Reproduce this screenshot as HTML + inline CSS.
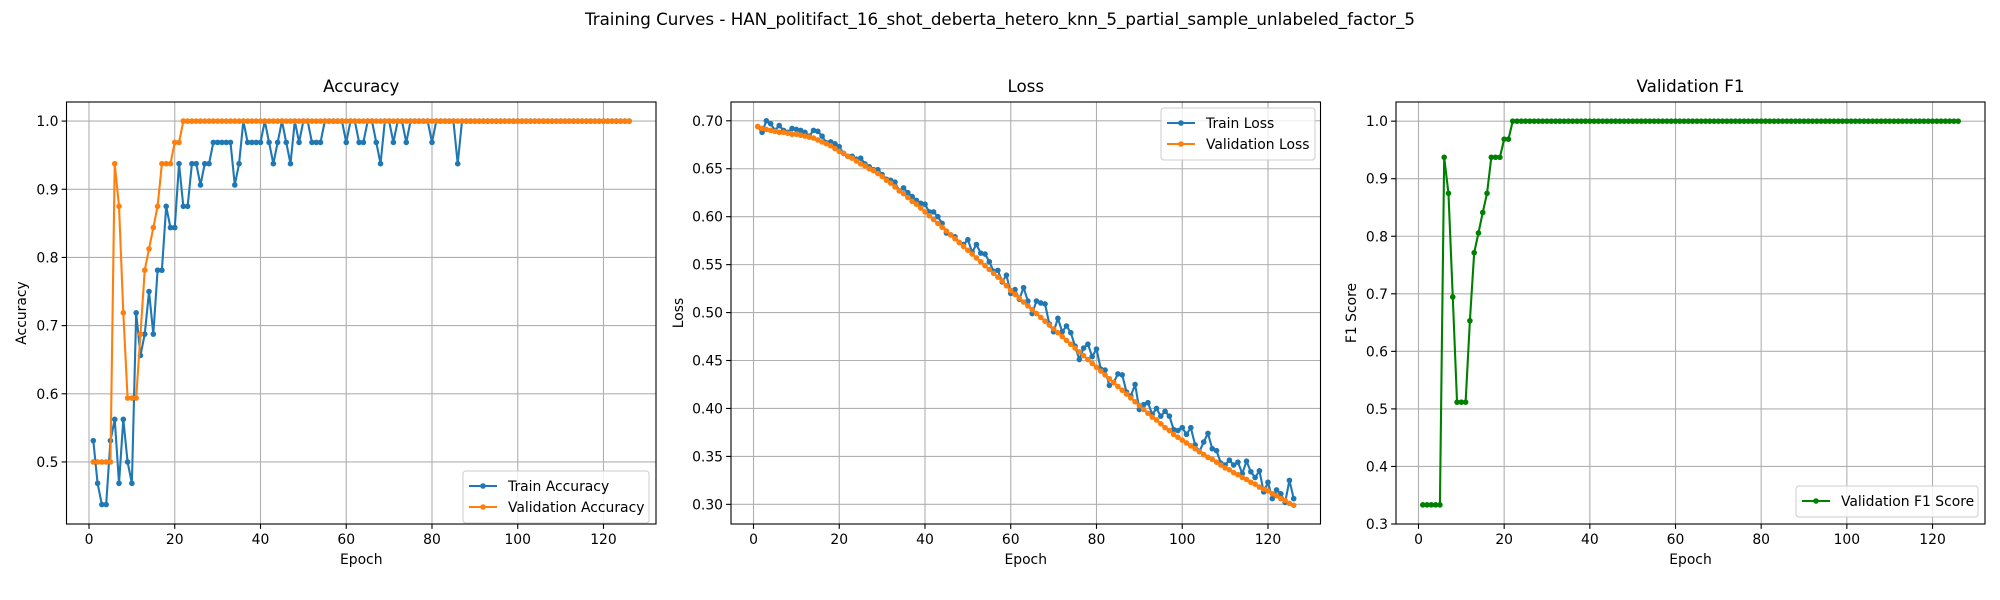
<!DOCTYPE html>
<html><head><meta charset="utf-8"><style>
html,body{margin:0;padding:0;background:#fff;}
svg{display:block;font-family:"DejaVu Sans","Liberation Sans",sans-serif;}
</style></head><body>
<svg id="fig" width="2000" height="600" viewBox="0 0 2000 600" xmlns="http://www.w3.org/2000/svg">
<text x="1000" y="25" text-anchor="middle" font-size="16.7">Training Curves - HAN_politifact_16_shot_deberta_hetero_knn_5_partial_sample_unlabeled_factor_5</text>
</svg>
<script>
const epochs = [];
for (let i = 1; i <= 126; i++) epochs.push(i);
const xTicks = [0, 20, 40, 60, 80, 100, 120];
const accTicks = [0.5, 0.6, 0.7, 0.8, 0.9, 1.0];
const lossTicks = [0.30, 0.35, 0.40, 0.45, 0.50, 0.55, 0.60, 0.65, 0.70];
const f1Ticks = [0.3, 0.4, 0.5, 0.6, 0.7, 0.8, 0.9, 1.0];
const trainAcc = [0.53125,0.46875,0.4375,0.4375,0.53125,0.5625,0.46875,0.5625,0.5,0.46875,
0.71875,0.65625,0.6875,0.75,0.6875,0.78125,0.78125,0.875,0.84375,0.84375,
0.9375,0.875,0.875,0.9375,0.9375,0.90625,0.9375,0.9375,0.96875,0.96875,
0.96875,0.96875,0.96875,0.90625,0.9375,1,0.96875,0.96875,0.96875,0.96875,
1,0.96875,0.9375,0.96875,1,0.96875,0.9375,1,0.96875,1,
1,0.96875,0.96875,0.96875,1,1,1,1,1,0.96875,
1,1,0.96875,0.96875,1,1,0.96875,0.9375,1,1,
0.96875,1,1,0.96875,1,1,1,1,1,0.96875,
1,1,1,1,1,0.9375,1,1,1,1,
1,1,1,1,1,1,1,1,1,1,
1,1,1,1,1,1,1,1,1,1,
1,1,1,1,1,1,1,1,1,1,
1,1,1,1,1,1];
const valAcc = [0.5,0.5,0.5,0.5,0.5,0.9375,0.875,0.71875,0.59375,0.59375,
0.59375,0.6875,0.78125,0.8125,0.84375,0.875,0.9375,0.9375,0.9375,0.96875,
0.96875].concat(Array(105).fill(1));
const trainLoss = [0.694,0.688,0.700,0.697,0.690,0.695,0.690,0.688,0.692,0.691,
0.690,0.688,0.684,0.690,0.689,0.684,0.677,0.678,0.676,0.673,
0.666,0.663,0.663,0.660,0.661,0.655,0.652,0.649,0.649,0.644,
0.639,0.638,0.636,0.627,0.630,0.625,0.621,0.617,0.614,0.613,
0.605,0.605,0.600,0.593,0.583,0.581,0.579,0.573,0.571,0.576,
0.563,0.571,0.562,0.561,0.553,0.543,0.544,0.532,0.539,0.520,
0.524,0.514,0.526,0.512,0.499,0.512,0.510,0.509,0.488,0.480,
0.494,0.480,0.486,0.479,0.465,0.451,0.463,0.467,0.454,0.462,
0.441,0.440,0.424,0.427,0.436,0.435,0.417,0.413,0.425,0.399,
0.404,0.406,0.394,0.400,0.392,0.397,0.392,0.378,0.377,0.380,
0.373,0.380,0.362,0.355,0.365,0.374,0.358,0.356,0.343,0.341,
0.346,0.341,0.344,0.332,0.345,0.334,0.328,0.335,0.313,0.323,
0.306,0.315,0.311,0.302,0.325,0.306];
const valLoss = [0.694,0.692,0.691,0.690,0.689,0.688,0.688,0.687,0.686,0.686,
0.685,0.684,0.683,0.682,0.680,0.678,0.676,0.674,0.671,0.668,
0.666,0.663,0.661,0.658,0.655,0.653,0.650,0.648,0.645,0.642,
0.638,0.635,0.631,0.627,0.624,0.620,0.616,0.613,0.609,0.605,
0.601,0.597,0.593,0.589,0.585,0.581,0.577,0.573,0.569,0.565,
0.561,0.557,0.553,0.549,0.545,0.541,0.537,0.533,0.528,0.523,
0.519,0.515,0.511,0.507,0.503,0.499,0.495,0.491,0.487,0.483,
0.479,0.475,0.471,0.467,0.463,0.459,0.455,0.451,0.447,0.443,
0.439,0.435,0.431,0.427,0.423,0.419,0.415,0.411,0.407,0.403,
0.399,0.395,0.391,0.388,0.384,0.380,0.377,0.373,0.370,0.367,
0.364,0.361,0.358,0.355,0.352,0.349,0.347,0.344,0.341,0.338,
0.336,0.333,0.331,0.328,0.326,0.323,0.321,0.318,0.316,0.314,
0.311,0.309,0.306,0.304,0.301,0.299];
const valF1 = [0.3333,0.3333,0.3333,0.3333,0.3333,0.9373,0.8746,0.6945,0.5117,0.5117,
0.5117,0.6532,0.7714,0.8057,0.8413,0.8746,0.9373,0.9373,0.9373,0.9687,
0.9687].concat(Array(105).fill(1));

const NS = "http://www.w3.org/2000/svg";
const svg = document.getElementById('fig');
function mk(tag, attrs, parent) {
  const e = document.createElementNS(NS, tag);
  for (const k in attrs) e.setAttribute(k, attrs[k]);
  (parent || svg).appendChild(e);
  return e;
}
function panel(cfg) {
  const L = cfg.left, R = cfg.right, T = 102, B = 524;
  const xmin = -5.25, xmax = 132.25;
  const sx = v => L + (v - xmin) / (xmax - xmin) * (R - L);
  const sy = v => B - (v - cfg.ymin) / (cfg.ymax - cfg.ymin) * (B - T);
  const g = mk('g', {});
  
  
  xTicks.forEach(t => {
    const x = sx(t);
    const gl = mk('line', {x1: x, x2: x, y1: T, y2: B, stroke: '#b0b0b0', 'stroke-width': 1.1}, g);
    
    
    mk('line', {x1: x, x2: x, y1: B, y2: B + 4.9, stroke: '#000', 'stroke-width': 1.1}, g);
    const tl = mk('text', {x: x, y: B + 20, 'text-anchor': 'middle', 'font-size': 13.9}, g);
    tl.textContent = t;
    
    
  });
  cfg.yTicks.forEach(t => {
    const y = sy(t);
    const gl = mk('line', {x1: L, x2: R, y1: y, y2: y, stroke: '#b0b0b0', 'stroke-width': 1.1}, g);
    
    
    mk('line', {x1: L - 4.9, x2: L, y1: y, y2: y, stroke: '#000', 'stroke-width': 1.1}, g);
    const tl = mk('text', {x: L - 8, y: y + 5, 'text-anchor': 'end', 'font-size': 13.9}, g);
    tl.textContent = t.toFixed(cfg.dec);
    
    
  });
  cfg.series.forEach(s => {
    const pts = s.data.map((v, i) => sx(epochs[i]).toFixed(2) + ',' + sy(v).toFixed(2)).join(' ');
    const pl = mk('polyline', {points: pts, fill: 'none', stroke: s.color, 'stroke-width': 2.1, 'stroke-linejoin': 'round'}, g);
    
    
    s.data.forEach((v, i) => {
      const c = mk('circle', {cx: sx(epochs[i]), cy: sy(v), r: 2.8, fill: s.color}, g);
      
      
    });
  });
  const fr = mk('rect', {x: L, y: T, width: R - L, height: B - T, fill: 'none', stroke: '#000', 'stroke-width': 1.1}, g);
  
  
  const ti = mk('text', {x: (L + R) / 2, y: 92, 'text-anchor': 'middle', 'font-size': 16.7}, g);
  ti.textContent = cfg.title;
  
  
  const xl = mk('text', {x: (L + R) / 2, y: 564, 'text-anchor': 'middle', 'font-size': 13.9}, g);
  xl.textContent = 'Epoch';
  
  
  const yl = mk('text', {x: cfg.ylx, y: (T + B) / 2, 'text-anchor': 'middle', 'font-size': 13.9, transform: 'rotate(-90 ' + cfg.ylx + ' ' + (T + B) / 2 + ')'}, g);
  yl.textContent = cfg.ylabel;
  
  
  const lg = cfg.legend;
  const lgg = mk('g', {}, g);
  
  
  mk('rect', {x: lg.x, y: lg.y, width: lg.w, height: 10 + cfg.series.length * 21, rx: 3, fill: '#fff', 'fill-opacity': 0.8, stroke: '#ccc', 'stroke-width': 1}, lgg);
  cfg.series.forEach((s, i) => {
    const yy = lg.y + 15 + i * 21;
    const e = mk('g', {}, lgg);
    
    
    mk('line', {x1: lg.x + 6, x2: lg.x + 34, y1: yy, y2: yy, stroke: s.color, 'stroke-width': 2.1}, e);
    mk('circle', {cx: lg.x + 20, cy: yy, r: 2.8, fill: s.color}, e);
    const t = mk('text', {x: lg.x + 45, y: yy + 5, 'font-size': 13.9}, e);
    t.textContent = s.label;
  });
}
panel({name: 'accuracy', title: 'Accuracy', ylabel: 'Accuracy', left: 66.5, right: 656, ymin: 0.409, ymax: 1.028, yTicks: accTicks, dec: 1, ylx: 26,
  series: [{name: 'train-accuracy', label: 'Train Accuracy', color: '#1f77b4', data: trainAcc},
           {name: 'validation-accuracy', label: 'Validation Accuracy', color: '#ff7f0e', data: valAcc}],
  legend: {x: 463, y: 471, w: 186}});
panel({name: 'loss', title: 'Loss', ylabel: 'Loss', left: 731, right: 1320.5, ymin: 0.2795, ymax: 0.7196, yTicks: lossTicks, dec: 2, ylx: 683,
  series: [{name: 'train-loss', label: 'Train Loss', color: '#1f77b4', data: trainLoss},
           {name: 'validation-loss', label: 'Validation Loss', color: '#ff7f0e', data: valLoss}],
  legend: {x: 1161, y: 108, w: 154}});
panel({name: 'validation-f1', title: 'Validation F1', ylabel: 'F1 Score', left: 1396, right: 1985, ymin: 0.3, ymax: 1.0333, yTicks: f1Ticks, dec: 1, ylx: 1356,
  series: [{name: 'validation-f1', label: 'Validation F1 Score', color: '#008000', data: valF1}],
  legend: {x: 1796, y: 486, w: 182}});
</script>
</body></html>
